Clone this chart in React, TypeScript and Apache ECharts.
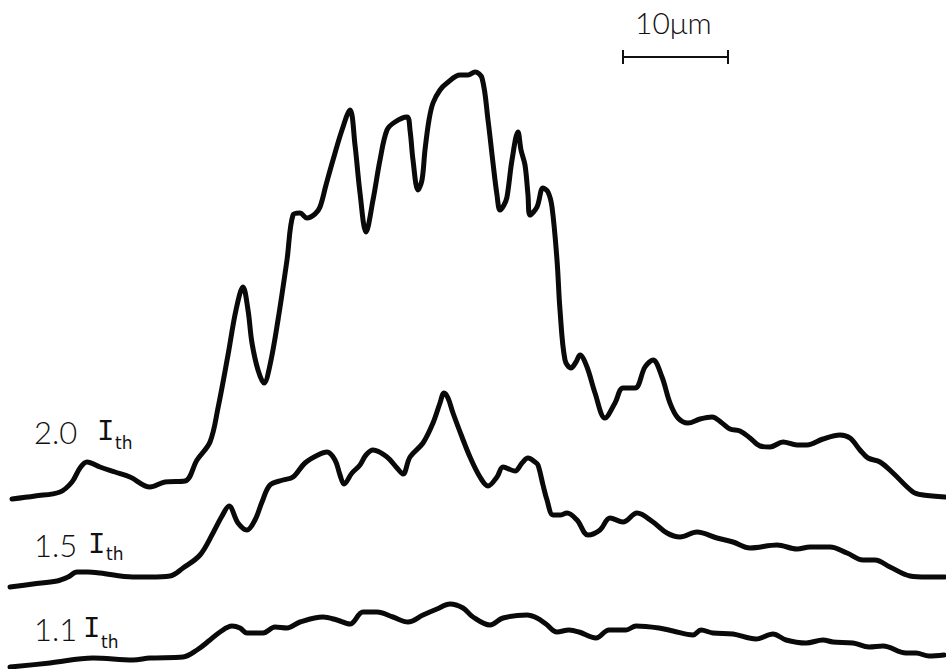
import React, { useEffect, useRef } from "react";
import * as echarts from "echarts";

// Near-field intensity profiles (position, intensity in arbitrary units)
const trace20: [number, number][] = [
  [12, 170], [35, 173], [60, 177], [72, 187], [80, 201], [87, 207], [100, 202], [115, 197], [130, 192],
  [150, 182], [165, 187], [185, 188], [197, 209], [210, 227], [218, 261], [228, 314], [236, 359], [243, 382],
  [248, 359], [252, 326], [258, 299], [264, 286], [270, 304], [278, 349], [287, 409], [293, 454], [300, 456],
  [307, 451], [315, 455], [320, 462], [326, 484], [333, 509], [342, 539], [350, 559], [355, 524], [360, 476],
  [366, 437], [373, 469], [380, 509], [387, 539], [395, 547], [407, 552], [410, 539], [413, 509], [418, 479],
  [422, 489], [425, 519], [429, 549], [433, 566], [440, 579], [447, 586], [460, 594], [468, 594], [475, 597],
  [482, 591], [488, 549], [493, 506], [497, 474], [500, 459], [504, 464], [507, 472], [512, 509], [518, 537],
  [521, 519], [525, 504], [528, 474], [530, 454], [537, 462], [543, 481], [548, 477], [552, 462], [557, 409],
  [560, 359], [565, 309], [571, 301], [576, 307], [580, 314], [587, 302], [595, 276], [605, 251], [615, 266],
  [623, 281], [635, 281], [645, 302], [653, 309], [662, 292], [670, 266], [678, 251], [688, 246], [700, 250],
  [712, 252], [722, 246], [730, 240], [740, 238], [750, 231], [760, 223], [770, 222], [783, 227], [797, 224],
  [807, 224], [823, 230], [840, 234], [850, 231], [860, 219], [868, 211], [880, 207], [893, 196], [913, 177],
  [923, 174], [945, 172],
];

const trace15: [number, number][] = [
  [10, 82], [33, 85], [57, 88], [68, 92], [77, 97], [88, 97], [100, 96], [133, 92], [150, 92], [170, 93],
  [183, 101], [200, 114], [213, 136], [222, 153], [229, 163], [238, 146], [247, 139], [255, 149], [262, 167],
  [270, 184], [283, 189], [293, 192], [305, 206], [318, 214], [327, 217], [335, 209], [340, 194], [344, 185],
  [352, 196], [360, 204], [366, 214], [373, 219], [387, 212], [397, 201], [403, 195], [410, 212], [423, 226],
  [433, 246], [440, 266], [444, 276], [448, 271], [453, 256], [462, 232], [470, 212], [480, 192], [488, 183],
  [497, 192], [503, 202], [515, 198], [522, 206], [528, 211], [535, 207], [538, 204], [543, 184], [547, 169],
  [553, 154], [560, 154], [567, 156], [577, 149], [588, 134], [600, 139], [610, 151], [623, 147], [637, 156],
  [653, 147], [667, 136], [680, 132], [697, 137], [717, 131], [733, 127], [750, 121], [777, 124], [797, 120],
  [810, 122], [830, 122], [847, 116], [863, 109], [875, 109], [890, 102], [910, 93], [927, 92], [945, 92],
];

const trace11: [number, number][] = [
  [10, 2], [50, 6], [93, 11], [133, 9], [150, 11], [183, 12], [197, 19], [210, 29], [220, 37], [232, 43],
  [240, 41], [247, 36], [263, 36], [275, 42], [287, 41], [300, 47], [323, 52], [337, 49], [350, 45], [363, 57],
  [377, 57], [393, 52], [408, 47], [423, 54], [437, 60], [450, 65], [463, 61], [473, 52], [490, 44], [503, 51],
  [527, 54], [537, 51], [546, 45], [557, 37], [569, 39], [579, 37], [596, 31], [609, 39], [626, 39], [636, 43],
  [659, 41], [673, 38], [693, 34], [701, 39], [713, 36], [733, 35], [756, 30], [773, 35], [786, 29], [806, 26],
  [823, 29], [833, 27], [853, 26], [869, 22], [883, 23], [906, 16], [916, 16], [929, 13], [944, 14],
];

const traceNames = ["2.0 Ith", "1.5 Ith", "1.1 Ith"];
const currentLabels = ["2.0", "1.5", "1.1"];
const scaleBarLabel = "10μm";

export default function App() {
  const ref = useRef<HTMLDivElement>(null);

  useEffect(() => {
    if (!ref.current) return;
    const chart = echarts.init(ref.current, null, { renderer: "svg" });
    const lineStyle = { color: "#0a0a0a", width: 5, cap: "round" as const, join: "round" as const };
    const mkSeries = (name: string, data: [number, number][]) => ({
      name,
      type: "line",
      data,
      symbol: "none",
      smooth: 0.35,
      clip: false,
      lineStyle,
    });
    const numFont = { fontFamily: "Lato, DejaVu Sans", fontSize: 31, fontWeight: 300, fill: "#111" };
    const iFont = { fontFamily: "Liberation Mono", fontSize: 29, fontWeight: 400, fill: "#111" };
    const subFont = { fontFamily: "DejaVu Sans", fontSize: 17, fontWeight: 400, fill: "#111" };
    const labelPos = [
      { x: 34, y: 432, ix: 97, sx: 115, sy: 443 },
      { x: 34, y: 545, ix: 88, sx: 106, sy: 554 },
      { x: 34, y: 629, ix: 83, sx: 101, sy: 642 },
    ];
    const labelEls: any[] = [];
    currentLabels.forEach((t, i) => {
      const p = labelPos[i];
      labelEls.push({ type: "text", x: p.x, y: p.y, style: { ...numFont, text: t, verticalAlign: "middle" } });
      labelEls.push({ type: "text", x: p.ix, y: p.y, style: { ...iFont, text: "I", verticalAlign: "middle" } });
      labelEls.push({ type: "text", x: p.sx, y: p.sy, style: { ...subFont, text: "th", verticalAlign: "middle" } });
    });
    chart.setOption({
      animation: false,
      backgroundColor: "#ffffff",
      grid: { left: 0, right: 0, top: 0, bottom: 0 },
      xAxis: { type: "value", min: 0, max: 946, show: false },
      yAxis: { type: "value", min: 0, max: 669, show: false },
      series: [mkSeries(traceNames[0], trace20), mkSeries(traceNames[1], trace15), mkSeries(traceNames[2], trace11)],
      graphic: [
        ...labelEls,
        { type: "text", x: 635, y: 22, style: { ...numFont, fontSize: 30, text: scaleBarLabel, verticalAlign: "middle" } },
        { type: "line", shape: { x1: 623, y1: 57, x2: 728, y2: 57 }, style: { stroke: "#111", lineWidth: 2 } },
        { type: "line", shape: { x1: 623, y1: 50, x2: 623, y2: 64 }, style: { stroke: "#111", lineWidth: 2 } },
        { type: "line", shape: { x1: 728, y1: 50, x2: 728, y2: 64 }, style: { stroke: "#111", lineWidth: 2 } },
      ],
    });
    return () => chart.dispose();
  }, []);

  return (
    <div
      ref={ref}
      style={{ position: "fixed", left: 0, top: 0, width: 946, height: 669, background: "#fff" }}
    />
  );
}
